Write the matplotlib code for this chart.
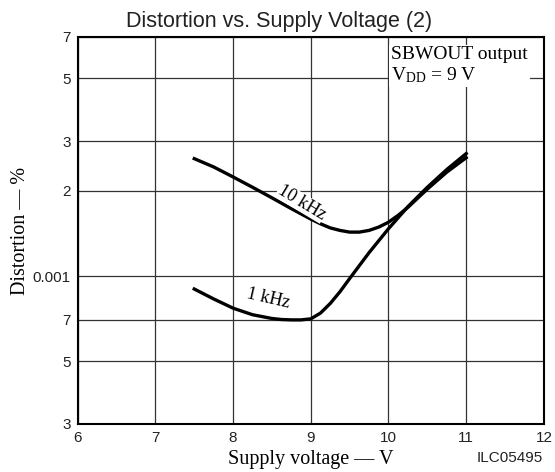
import matplotlib.pyplot as plt
from matplotlib.ticker import FixedLocator, FixedFormatter, NullLocator

# values
volts_10k = [7.5, 7.75, 8.0, 8.25, 8.5, 8.75, 9.0, 9.125, 9.25, 9.375, 9.5, 9.625,
             9.75, 9.875, 10.0, 10.125, 10.25, 10.5, 10.75, 11.0]
dist_10k = [0.00260, 0.00243, 0.00224, 0.00206, 0.00189, 0.00173, 0.00159, 0.00153,
            0.00148, 0.00145, 0.00143, 0.00143, 0.00145, 0.00149, 0.00155, 0.00164,
            0.00175, 0.00203, 0.00233, 0.00262]
volts_1k = [7.5, 7.75, 8.0, 8.25, 8.5, 8.625, 8.75, 8.875, 9.0, 9.125, 9.25, 9.375,
            9.5, 9.75, 10.0, 10.25, 10.5, 10.75, 11.0]
dist_1k = [0.00090, 0.00083, 0.00077, 0.00073, 0.000708, 0.000702, 0.000700, 0.000700,
           0.000706, 0.00074, 0.00080, 0.00088, 0.00098, 0.00121, 0.00147, 0.00176,
           0.00206, 0.00238, 0.00271]

y_ticks = [3e-4, 5e-4, 7e-4, 1e-3, 2e-3, 3e-3, 5e-3, 7e-3]
y_labels = ["3", "5", "7", "0.001", "2", "3", "5", "7"]
x_ticks = [6, 7, 8, 9, 10, 11, 12]

sans = "Liberation Sans"
serif = "Liberation Serif"

fig = plt.figure(figsize=(5.55, 4.72), dpi=100)
ax = fig.add_axes([0.140, 0.1017, 0.840, 0.820])

ax.plot(volts_10k, dist_10k, color="black", lw=2.4, solid_joinstyle="round", zorder=3)
ax.plot(volts_1k, dist_1k, color="black", lw=2.4, solid_joinstyle="round", zorder=3)

ax.set_yscale("log")
ax.set_xlim(6, 12)
ax.set_ylim(3e-4, 7e-3)
ax.yaxis.set_major_locator(FixedLocator(y_ticks))
ax.yaxis.set_major_formatter(FixedFormatter(y_labels))
ax.yaxis.set_minor_locator(NullLocator())
ax.set_xticks(x_ticks)
ax.tick_params(length=0, labelsize=11, pad=5)
for lab in ax.get_xticklabels() + ax.get_yticklabels():
    lab.set_fontfamily(sans)
    lab.set_color("#222222")

ax.grid(True, color="#333333", lw=0.9)
ax.set_axisbelow(True)
for s in ax.spines.values():
    s.set_linewidth(1.5)
    s.set_color("black")

fig.text(0.502, 0.943, "Distortion vs. Supply Voltage (2)", fontsize=15.5, family=sans,
         color="#222222", ha="center", va="baseline")
ax.set_xlabel("Supply voltage — V", family=serif, fontsize=14.5, labelpad=4)
ax.set_ylabel("Distortion — %", family=serif, fontsize=14.5, labelpad=2)

ax.text(8.88, 0.00182, "10 kHz", rotation=-31, family=serif, fontsize=13,
        ha="center", va="center", zorder=4,
        bbox=dict(facecolor="white", edgecolor="none", pad=0.3))
ax.text(8.45, 0.00083, "1 kHz", rotation=-13, family=serif, fontsize=13,
        ha="center", va="center", zorder=4,
        bbox=dict(facecolor="white", edgecolor="none", pad=0.3))

ax.text(10.03, 0.0065, "SBWOUT output\n$\\mathregular{V_{DD}}$ = 9 V", family=serif,
        fontsize=14, ha="left", va="top", linespacing=1.15, zorder=4,
        bbox=dict(facecolor="white", edgecolor="none", pad=1.5))

fig.text(0.979, 0.022, "ILC05495", family=sans, fontsize=11, ha="right", va="baseline",
         color="#222222")

fig.savefig("out.png", dpi=100)
